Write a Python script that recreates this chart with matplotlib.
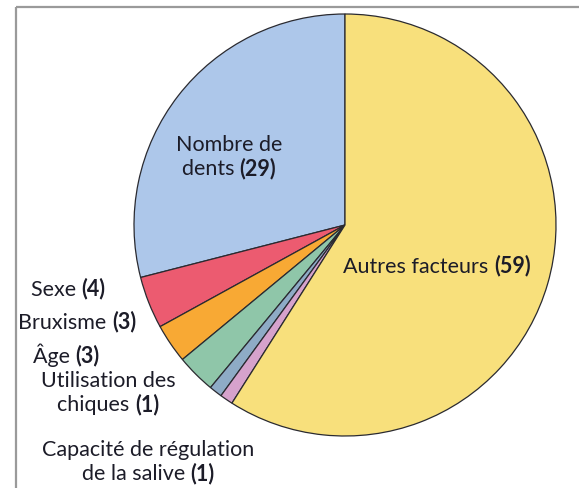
import matplotlib
matplotlib.use("Agg")
import matplotlib.pyplot as plt
from matplotlib.offsetbox import TextArea, HPacker, VPacker, AnnotationBbox

# Data
categories = ["Nombre de dents", "Sexe", "Bruxisme", "Âge",
              "Utilisation des chiques", "Capacité de régulation de la salive",
              "Autres facteurs"]
values = [29, 4, 3, 3, 1, 1, 59]
colors = ["#adc7ea", "#ec5b70", "#f8a934", "#8fc6a9", "#8eabc6", "#d6a2cc", "#f8e07c"]

# Label lines; the value is drawn in bold after the last line
label_lines = {
    "Nombre de dents": ["Nombre de", "dents"],
    "Sexe": ["Sexe"],
    "Bruxisme": ["Bruxisme"],
    "Âge": ["Âge"],
    "Utilisation des chiques": ["Utilisation des", "chiques"],
    "Capacité de régulation de la salive": ["Capacité de régulation", "de la salive"],
    "Autres facteurs": ["Autres facteurs"],
}
# label centres in pixel coordinates (x, y from top)
label_pos = {
    "Nombre de dents": (229, 157),
    "Sexe": (68, 289),
    "Bruxisme": (77, 322),
    "Âge": (66, 355),
    "Utilisation des chiques": (108, 393),
    "Capacité de régulation de la salive": (148, 462),
    "Autres facteurs": (437, 266),
}

W, H = 579, 489
fig = plt.figure(figsize=(W / 100, H / 100), dpi=100)
fig.patch.set_facecolor("white")
ax = fig.add_axes([0, 0, 1, 1])

# frame lines
ax.plot([16, 16], [0, H - 8], color="#9a9a9a", lw=1.6, solid_capstyle="butt")
ax.plot([16, W], [H - 8, H - 8], color="#9a9a9a", lw=1.6, solid_capstyle="butt")

cx, cy, r = 345, H - 226, 211
ax.pie(values, colors=colors, startangle=90, counterclock=True,
       center=(cx, cy), radius=r, frame=True,
       wedgeprops=dict(edgecolor="#2a2a30", linewidth=0.9))
ax.set_xlim(0, W)
ax.set_ylim(0, H)
ax.set_aspect("equal")
ax.axis("off")

font = "Lato"
fs = 15.5
tcol = "#1c1c28"

for cat, val in zip(categories, values):
    lines = label_lines[cat]
    rows = []
    for i, line in enumerate(lines):
        last = i == len(lines) - 1
        parts = [TextArea(line + (" " if last else ""),
                          textprops=dict(family=font, size=fs, color=tcol))]
        if last:
            parts.append(TextArea(f"({val})",
                                  textprops=dict(family=font, size=fs, color=tcol,
                                                 weight="bold")))
        rows.append(HPacker(children=parts, pad=0, sep=0, align="baseline"))
    box = VPacker(children=rows, pad=0, sep=2, align="center")
    px, py = label_pos[cat]
    ab = AnnotationBbox(box, (px, H - py), xycoords="data", frameon=False,
                        box_alignment=(0.5, 0.5), pad=0)
    ax.add_artist(ab)

fig.savefig("out.png", dpi=100)
